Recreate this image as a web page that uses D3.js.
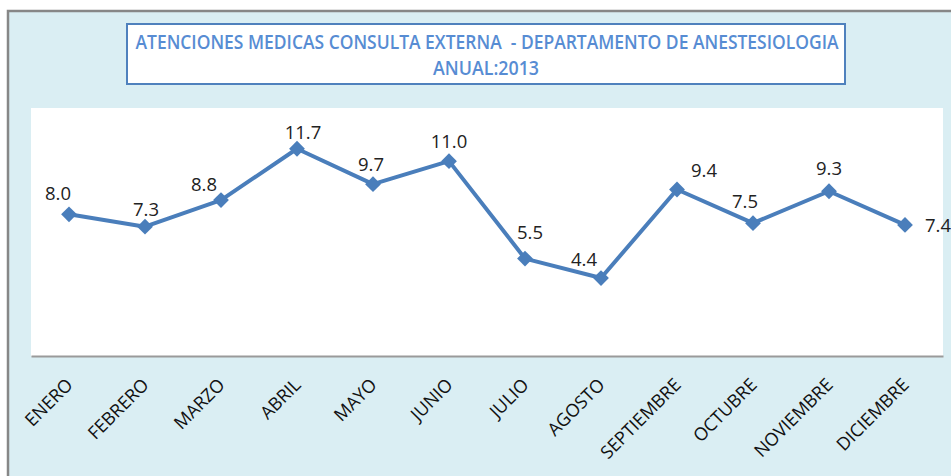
<!DOCTYPE html>
<html>

<head>
	<meta charset="utf-8">
	<title>Atenciones medicas - Anestesiologia 2013</title>
	<style>
		body { margin: 0; background: #fff; }
		svg { display: block; }
		.month { font-family: 'Open Sans', sans-serif; font-size: 18px; fill: #111; }
		.val { font-family: 'Open Sans', sans-serif; font-size: 18.5px; fill: #222; }
		.title { font-family: 'Open Sans', sans-serif; font-weight: 600; font-size: 19px; fill: #578cd3; }
	</style>
</head>

<body>
	<svg id="chart" width="951" height="476"></svg>
	<script src="https://cdn.jsdelivr.net/npm/d3@7"></script>
	<script>
		// data
		var months = ['ENERO', 'FEBRERO', 'MARZO', 'ABRIL', 'MAYO', 'JUNIO', 'JULIO',
			'AGOSTO', 'SEPTIEMBRE', 'OCTUBRE', 'NOVIEMBRE', 'DICIEMBRE'];
		var values = [8.0, 7.3, 8.8, 11.7, 9.7, 11.0, 5.5, 4.4, 9.4, 7.5, 9.3, 7.4];
		var titleLines = ['ATENCIONES MEDICAS CONSULTA EXTERNA  - DEPARTAMENTO DE ANESTESIOLOGIA', 'ANUAL:2013'];

		// label nudges (px from the point), like the hand-placed excel labels
		var labelNudge = [[-11, -14], [1, -11], [-17, -9], [6, -10], [-2, -13], [0, -13],
			[5, -20], [-17, -12], [27, -12], [-8, -15], [0, -16], [33, 7]];

		var blue = '#4a7ebb';
		var svg = d3.select('#chart');

		// outer chart frame
		svg.append('rect')
			.attr('x', 8).attr('y', 11)
			.attr('width', 960).attr('height', 480)
			.attr('fill', '#daeef3')
			.attr('stroke', '#878787')
			.attr('stroke-width', 2.5);

		// title box
		svg.append('rect')
			.attr('x', 127).attr('y', 24)
			.attr('width', 718).attr('height', 60)
			.attr('fill', '#fff')
			.attr('stroke', '#4f81bd')
			.attr('stroke-width', 2);

		svg.append('text').attr('class', 'title')
			.attr('x', 487).attr('y', 48.5)
			.attr('text-anchor', 'middle')
			.attr('textLength', 703)
			.attr('lengthAdjust', 'spacingAndGlyphs')
			.style('white-space', 'pre')
			.text(titleLines[0]);
		svg.append('text').attr('class', 'title')
			.attr('x', 486).attr('y', 74.5)
			.attr('text-anchor', 'middle')
			.attr('textLength', 106)
			.attr('lengthAdjust', 'spacingAndGlyphs')
			.text(titleLines[1]);

		// plot area
		var plot = { left: 31, right: 943, top: 108, bottom: 356 };

		svg.append('rect')
			.attr('x', plot.left).attr('y', plot.top)
			.attr('width', plot.right - plot.left)
			.attr('height', plot.bottom - plot.top)
			.attr('fill', '#fff');

		var x = d3.scaleBand().domain(months).range([plot.left, plot.right]);
		var y = d3.scaleLinear().domain([0, 14]).range([plot.bottom, plot.top]);
		var cx = function (d) { return x(d) + x.bandwidth() / 2; };

		// category axis
		var xAxis = svg.append('g')
			.attr('transform', 'translate(0,' + plot.bottom + ')')
			.call(d3.axisBottom(x).tickSize(0).tickFormat(''));
		xAxis.select('.domain').attr('stroke', '#9a9a9a').attr('stroke-width', 2);

		svg.append('g').selectAll('text')
			.data(months)
			.enter()
			.append('text')
			.attr('class', 'month')
			.attr('text-anchor', 'end')
			.attr('transform', function (d) {
				return 'translate(' + (cx(d) + 5) + ',' + (plot.bottom + 30) + ') rotate(-45)';
			})
			.text(function (d) { return d; });

		// series
		var pts = months.map(function (m, i) { return { m: m, v: values[i], i: i }; });

		svg.append('path')
			.datum(pts)
			.attr('fill', 'none')
			.attr('stroke', blue)
			.attr('stroke-width', 4)
			.attr('stroke-linejoin', 'round')
			.attr('d', d3.line()
				.x(function (d) { return cx(d.m); })
				.y(function (d) { return y(d.v); }));

		svg.append('g').selectAll('path')
			.data(pts)
			.enter()
			.append('path')
			.attr('fill', blue)
			.attr('d', d3.symbol(d3.symbolSquare, 125))
			.attr('transform', function (d) {
				return 'translate(' + cx(d.m) + ',' + y(d.v) + ') rotate(45)';
			});

		svg.append('g').selectAll('text')
			.data(pts)
			.enter()
			.append('text')
			.attr('class', 'val')
			.attr('text-anchor', 'middle')
			.attr('x', function (d) { return cx(d.m) + labelNudge[d.i][0]; })
			.attr('y', function (d) { return y(d.v) + labelNudge[d.i][1]; })
			.text(function (d) { return d3.format('.1f')(d.v); });
	</script>
</body>

</html>
